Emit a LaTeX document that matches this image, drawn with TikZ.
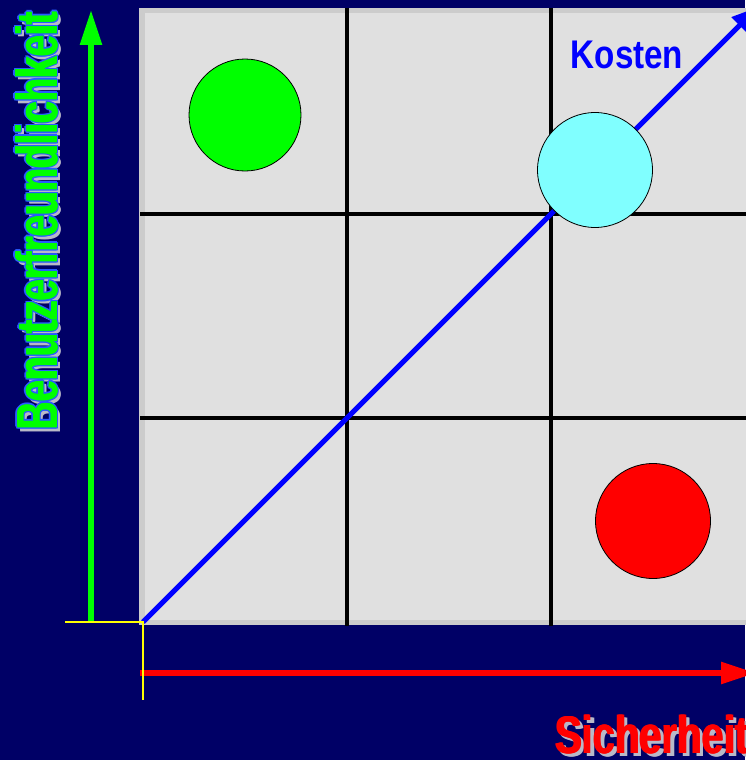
\documentclass[tikz,border=0pt]{standalone}
\usepackage{graphicx}
\usepackage{fontspec}
\setmainfont{Liberation Sans}
\usetikzlibrary{arrows.meta}
\definecolor{navy}{RGB}{0,0,102}
\definecolor{panelgray}{RGB}{224,224,224}
\definecolor{bevelgray}{RGB}{204,204,204}
\definecolor{shadowgray}{RGB}{185,185,200}
\definecolor{outblue}{RGB}{40,90,255}
\definecolor{cyanc}{RGB}{128,255,255}
\definecolor{greenc}{RGB}{0,255,0}
\definecolor{bluec}{RGB}{0,0,255}
\definecolor{redc}{RGB}{255,0,0}
\definecolor{yellowc}{RGB}{255,255,0}
\tikzset{
  gridline/.style={line width=4.5pt, black},
  bigcirc/.style={circle, draw=black, line width=0.8pt, inner sep=0pt, minimum size=113pt},
  labfont/.style={font=\bfseries\fontsize{58}{58}\selectfont, inner sep=0pt},
  sichfont/.style={font=\bfseries\fontsize{53}{53}\selectfont, inner sep=0pt},
  axisarrow/.style={line width=5.5pt, -{Triangle[length=35pt,width=21pt]}},
}
\begin{document}
\begin{tikzpicture}[x=1pt,y=-1pt]
\useasboundingbox (0,0) rectangle (745,760);
\fill[navy] (0,0) rectangle (745,760);
% panel
\fill[bevelgray] (139,8) rectangle (760,625);
\fill[panelgray] (145,13) rectangle (760,620);
% grid
\draw[gridline] (347,8) -- (347,626);
\draw[gridline] (551,8) -- (551,626);
\draw[gridline] (140,214) -- (760,214);
\draw[gridline] (140,418) -- (760,418);
% coordinates
\coordinate (o) at (143,622);
\coordinate (kt) at (758,7);
\coordinate (gb) at (91,622);
\coordinate (gt) at (91,10);
\coordinate (rb) at (140,673);
\coordinate (rt) at (756,673);
\coordinate (yl) at (65,622);
\coordinate (yb) at (143,700);
% diagonal cost arrow
\draw[bluec, line width=5pt, -{Triangle[length=26pt,width=22pt]}] (o) -- (kt);
% circles
\node[bigcirc, fill=greenc, minimum size=112pt] (cg) at (245,115) {};
\node[bigcirc, fill=cyanc, minimum size=115pt] (cc) at (595,170) {};
\node[bigcirc, fill=redc, minimum size=115pt] (cr) at (653,521) {};
% axes
\draw[greenc, axisarrow] (gb) -- (gt);
\draw[redc, axisarrow] (rb) -- (rt);
\draw[yellowc, line width=2pt] (yl) -- (o) -- (yb);
% Kosten
\node[text=bluec, font=\bfseries\fontsize{40}{40}\selectfont, inner sep=0pt, anchor=base] (kosten) at (627,69) {\scalebox{0.83}[1]{Kosten}};
% Benutzerfreundlichkeit
\def\benu{\scalebox{0.665}[1]{Benutzerfreundlichkeit}}
\foreach \dy [count=\k] in {-0.8,0,0.8}
  \node[labfont, rotate=90, anchor=base west, text=shadowgray] (bs\k) at (60.5,433.5+\dy) {\benu};
\foreach \dx/\dy [count=\k] in {-1.4/0,1.4/0,0/-2,0/2,-1/-1.6,1/1.6,-1/1.6,1/-1.6}
  \node[labfont, rotate=90, anchor=base west, text=outblue] (bo\k) at (57+\dx,430+\dy) {\benu};
\foreach \dy [count=\k] in {-0.7,0,0.7}
  \node[labfont, rotate=90, anchor=base west, text=greenc] (benu\k) at (57,430+\dy) {\benu};
% Sicherheit
\def\sich{\scalebox{0.755}[1]{Sicherheit}}
\foreach \dx [count=\k] in {-0.8,0,0.8}
  \node[sichfont, anchor=base west, text=shadowgray] (ss\k) at (558.5+\dx,756.5) {\sich};
\foreach \dx [count=\k] in {-0.8,0,0.8}
  \node[sichfont, anchor=base west, text=redc] (sich\k) at (555+\dx,753) {\sich};
\end{tikzpicture}
\end{document}
